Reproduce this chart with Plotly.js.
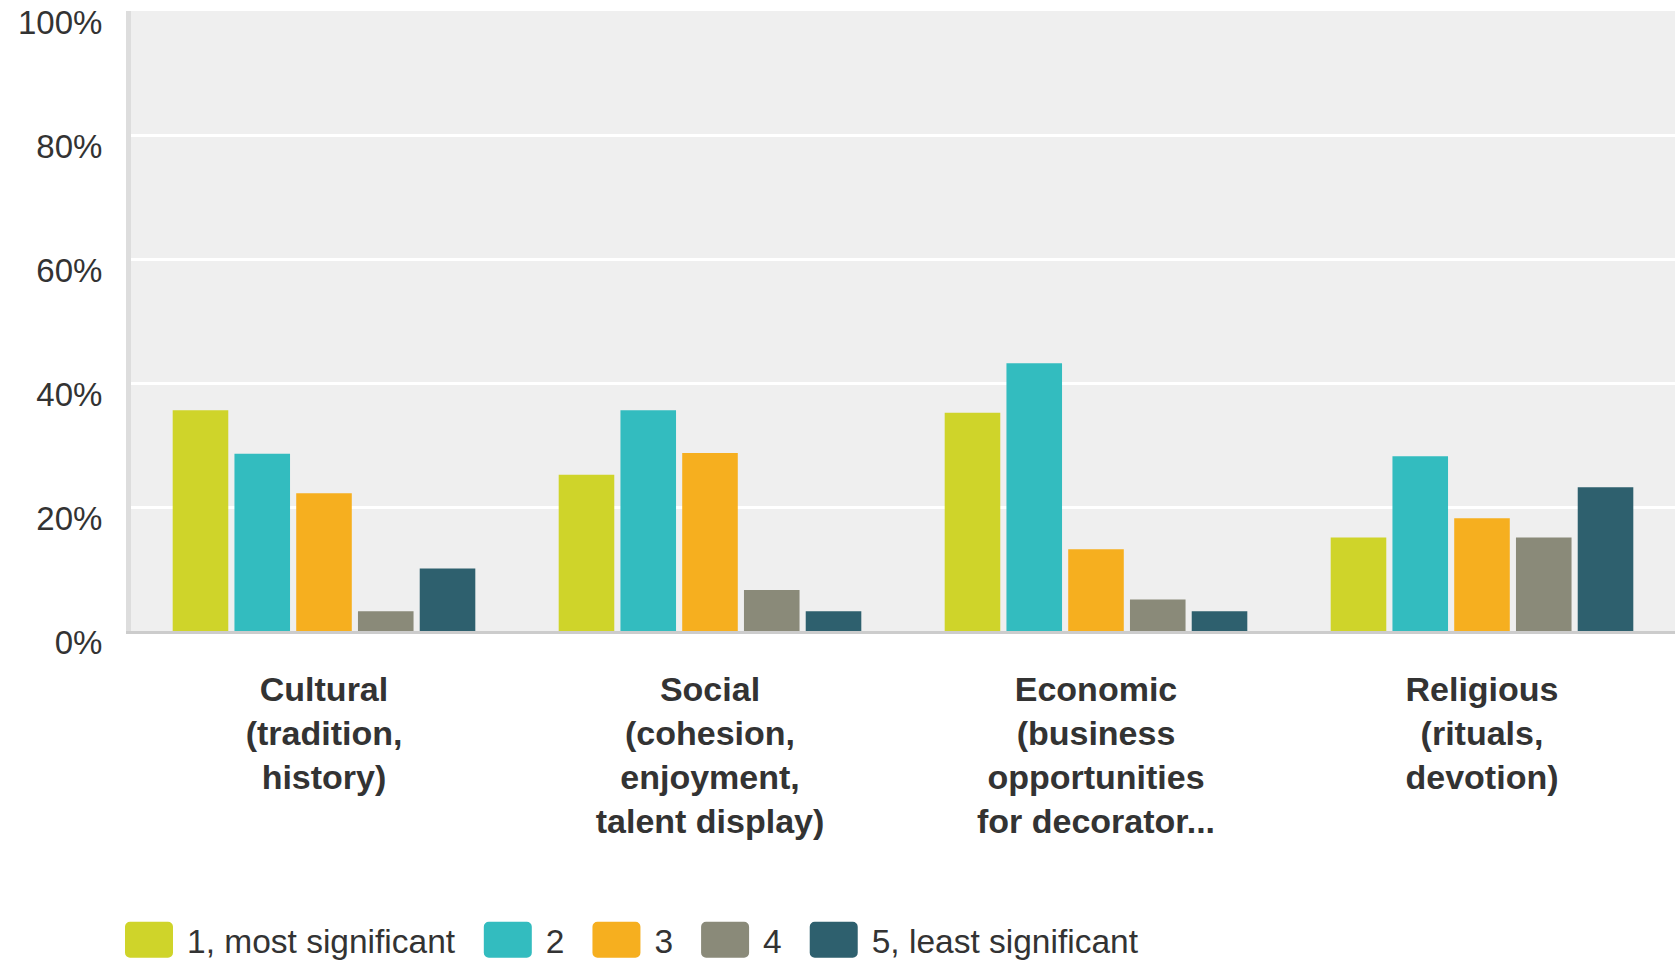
<!DOCTYPE html>
<html><head><meta charset="utf-8">
<script src="https://cdn.plot.ly/plotly-3.0.1.min.js"></script>
<style>html,body{margin:0;padding:0;background:#fff}#chart{width:1675px;height:960px}</style>
</head><body><div id="chart"></div>
<script>
const categories = ["Cultural<br>(tradition,<br>history)", "Social<br>(cohesion,<br>enjoyment,<br>talent display)", "Economic<br>(business<br>opportunities<br>for decorator...", "Religious<br>(rituals,<br>devotion)"];
const seriesNames = ["1, most significant", "2", "3", "4", "5, least significant"];
const seriesColors = ["#CFD42A", "#33BCBF", "#F6AF1F", "#8A8A79", "#2E606E"];
const rank1 = [35.6, 25.2, 35.2, 15.1];
const rank2 = [28.6, 35.6, 43.2, 28.2];
const rank3 = [22.2, 28.7, 13.2, 18.2];
const rank4 = [3.2, 6.6, 5.1, 15.1];
const rank5 = [10.1, 3.2, 3.2, 23.2];
const yTickVals = [0, 20, 40, 60, 80, 100];
const yTickText = ["0%", "20%", "40%", "60%", "80%", "100%"];

const seriesValues = [rank1, rank2, rank3, rank4, rank5];
const traces = seriesValues.map((vals, i) => ({
  type: 'bar',
  name: seriesNames[i],
  x: categories,
  y: vals,
  marker: {color: seriesColors[i], line: {width: 0}},
  hoverinfo: 'none'
}));

const layout = {
  width: 1675, height: 960,
  margin: {l: 131, r: 0, t: 11, b: 329, pad: 0},
  paper_bgcolor: '#ffffff',
  plot_bgcolor: '#EFEFEF',
  barmode: 'group',
  bargap: 0.2,
  bargroupgap: 0.10,
  font: {family: 'Liberation Sans, Arial, sans-serif', color: '#333333'},
  showlegend: true,
  xaxis: {
    showline: true, linecolor: '#CCCCCC', linewidth: 3,
    showgrid: false, zeroline: false, ticks: '',
    tickfont: {size: 34, weight: 'bold', color: '#333333'},
    ticklabelstandoff: 26,
    fixedrange: true
  },
  yaxis: {
    range: [0, 100],
    tickmode: 'array', tickvals: yTickVals, ticktext: yTickText,
    showgrid: true, gridcolor: '#FFFFFF', gridwidth: 3,
    zeroline: false,
    showline: true, linecolor: '#DDDDDD', linewidth: 5,
    ticks: '',
    tickfont: {size: 33, color: '#333333'},
    ticklabelstandoff: 17,
    ticklabelshift: 11,
    fixedrange: true
  },
  legend: {
    orientation: 'h',
    xref: 'container', yref: 'container',
    x: 102 / 1675, y: 20 / 960,
    xanchor: 'left', yanchor: 'middle',
    font: {size: 33.5, color: '#333333'},
    itemwidth: 75,
    traceorder: 'normal',
    bgcolor: 'rgba(0,0,0,0)'
  }
};

Plotly.newPlot('chart', traces, layout, {displayModeBar: false, staticPlot: true}).then(gd => {
  const rr = 'M-14.5,-18H23.5A5,5 0 0 1 28.5,-13V13A5,5 0 0 1 23.5,18H-14.5A5,5 0 0 1 -19.5,13V-13A5,5 0 0 1 -14.5,-18Z';
  gd.querySelectorAll('.legend .legendpoints path').forEach(p => p.setAttribute('d', rr));
});
</script>
</body></html>
